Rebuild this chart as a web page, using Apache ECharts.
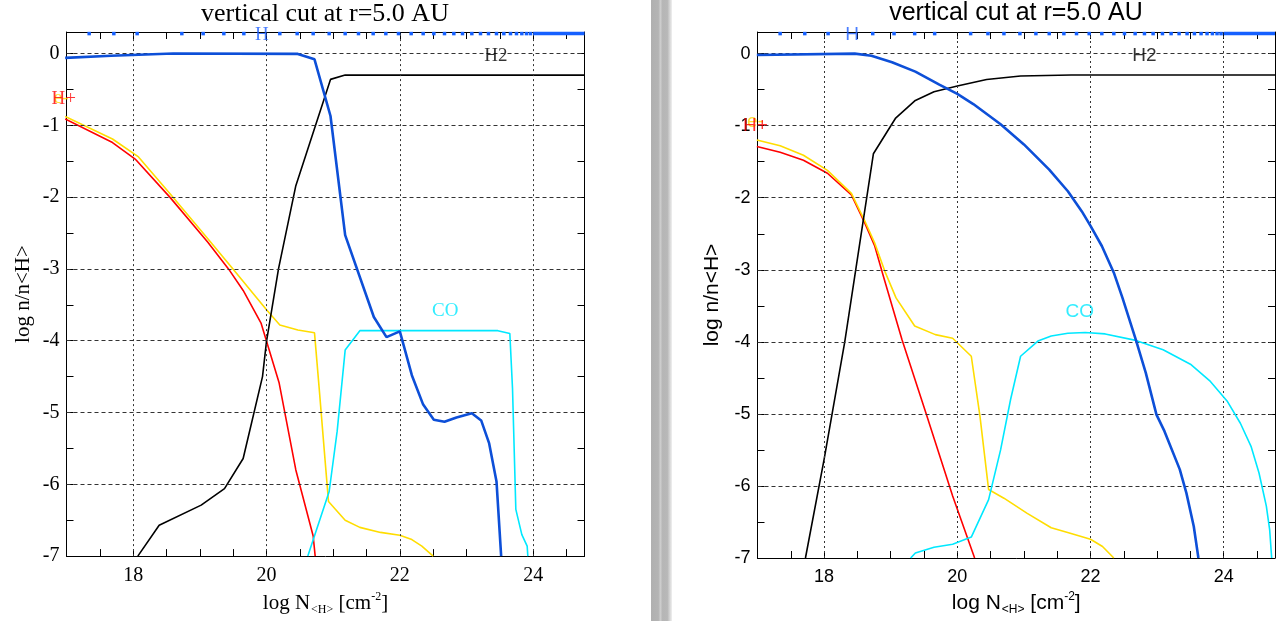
<!DOCTYPE html>
<html><head><meta charset="utf-8">
<script src="https://cdn.jsdelivr.net/npm/echarts@6/dist/echarts.min.js"></script>
<style>html,body{margin:0;padding:0;background:#fff}#c{width:1282px;height:621px}</style>
</head><body><div id="c"></div>
<script>
// ---- tick labels ----
const xLabelVals = [18, 20, 22, 24];
const yLabelVals = [0, -1, -2, -3, -4, -5, -6, -7];
// ---- model grid points shown along the top edge ----
const gridPts = [17.34, 17.71, 18.06, 18.73, 19.05, 19.36, 19.66, 20.20, 20.46, 20.70, 20.94, 21.18, 21.38,
  21.60, 21.79, 21.98, 22.17, 22.35, 22.51, 22.67, 22.81, 22.94, 23.08, 23.21, 23.33, 23.45, 23.56, 23.66,
  23.75, 23.83, 23.90, 23.96];
const gridPtsDense = [24.0, 24.77];
// ---- left panel (log n/n<H> vs log N<H>) ----
const leftH = [[16.98,-0.06],[17.67,-0.03],[18.6,0.0],[20.47,-0.005],[20.72,-0.08],[20.96,-0.87],[21.18,-2.53],
  [21.61,-3.67],[21.80,-3.95],[22.0,-3.87],[22.18,-4.48],[22.35,-4.89],[22.51,-5.10],[22.67,-5.13],[22.85,-5.07],
  [23.08,-5.01],[23.22,-5.11],[23.34,-5.43],[23.45,-5.96],[23.52,-7.0]];
const leftH2 = [[18.07,-7.0],[18.39,-6.57],[19.02,-6.29],[19.37,-6.06],[19.65,-5.64],[19.94,-4.5],[20.0,-4.01],
  [20.18,-3.0],[20.44,-1.84],[20.96,-0.36],[21.18,-0.30],[24.77,-0.30]];
const leftHp = [[16.98,-0.91],[17.69,-1.24],[18.03,-1.47],[18.55,-2.0],[19.12,-2.63],[19.43,-3.0],[19.65,-3.30],
  [19.92,-3.76],[20.19,-4.59],[20.44,-5.80],[20.70,-6.72],[20.73,-7.0]];
const leftE = [[16.98,-0.875],[17.69,-1.19],[18.08,-1.44],[18.55,-1.95],[19.12,-2.58],[19.46,-2.96],[20.0,-3.57],
  [20.2,-3.78],[20.47,-3.85],[20.72,-3.89],[20.79,-4.66],[20.88,-5.68],[20.93,-6.24],[21.18,-6.5],[21.40,-6.60],
  [21.71,-6.67],[22.0,-6.71],[22.18,-6.77],[22.33,-6.86],[22.50,-7.0]];
const leftCO = [[20.62,-7.0],[20.94,-6.10],[21.06,-5.26],[21.18,-4.13],[21.40,-3.86],[23.47,-3.86],[23.65,-3.90],
  [23.69,-4.66],[23.74,-6.35],[23.83,-6.70],[23.91,-6.86],[23.92,-7.0]];
// ---- right panel ----
const rightH = [[16.99,-0.02],[18.46,0.0],[18.71,-0.03],[19.02,-0.12],[19.37,-0.25],[19.73,-0.43],[20.0,-0.56],
  [20.24,-0.70],[20.65,-0.98],[21.0,-1.26],[21.38,-1.61],[21.66,-1.91],[21.87,-2.19],[22.0,-2.39],[22.17,-2.67],
  [22.35,-3.04],[22.48,-3.39],[22.68,-3.97],[22.83,-4.43],[22.99,-5.01],[23.11,-5.24],[23.34,-5.77],[23.44,-6.10],
  [23.55,-6.56],[23.62,-7.0]];
const rightH2 = [[17.72,-7.0],[18.0,-5.63],[18.31,-4.0],[18.74,-1.39],[19.07,-0.90],[19.37,-0.65],[19.65,-0.53],
  [20.0,-0.45],[20.44,-0.36],[20.95,-0.31],[21.71,-0.296],[24.77,-0.296]];
const rightHp = [[16.99,-1.29],[17.34,-1.37],[17.69,-1.48],[18.05,-1.66],[18.41,-1.96],[18.61,-2.35],[18.76,-2.67],
  [18.89,-3.09],[19.17,-3.97],[19.35,-4.48],[19.53,-4.99],[19.93,-6.14],[20.26,-7.0]];
const rightE = [[16.99,-1.20],[17.34,-1.28],[17.69,-1.41],[18.05,-1.62],[18.41,-1.94],[18.61,-2.32],[18.76,-2.63],
  [18.92,-3.04],[19.08,-3.39],[19.36,-3.78],[19.67,-3.90],[19.93,-3.95],[20.21,-4.20],[20.34,-5.03],[20.47,-6.05],
  [20.70,-6.17],[21.05,-6.38],[21.41,-6.58],[21.67,-6.65],[22.0,-6.74],[22.18,-6.84],[22.35,-7.0]];
const rightCO = [[19.30,-7.0],[19.37,-6.93],[19.65,-6.85],[19.93,-6.81],[20.21,-6.71],[20.47,-6.19],[20.65,-5.50],
  [20.80,-4.80],[20.95,-4.20],[21.21,-3.99],[21.41,-3.92],[21.66,-3.88],[21.92,-3.87],[22.22,-3.89],[22.68,-3.98],
  [23.09,-4.11],[23.50,-4.31],[23.80,-4.55],[24.05,-4.82],[24.25,-5.13],[24.41,-5.45],[24.53,-5.82],[24.64,-6.28],
  [24.69,-6.61],[24.72,-7.0]];
// ---- species labels [x, y, text, colour] ----
const leftLabels = [[19.93,0.26,'H','#1a5cff'],[23.44,-0.03,'H2','#000'],[16.92,-0.62,'e-','#ffd700'],[16.96,-0.64,'H+','#ff0000'],[22.68,-3.58,'CO','#00e8ff']];
const rightLabels = [[18.42,0.26,'H','#1a5cff'],[22.81,-0.03,'H2','#000'],[16.97,-0.94,'e-','#ffd700'],[16.97,-1.0,'H+','#ff0000'],[21.84,-3.58,'CO','#00e8ff']];

const title = 'vertical cut at r=5.0 AU';
const fonts = ['Liberation Serif', 'Liberation Sans'];
const tickSize = [20, 18];
const colors = {H:'#0d4fd8', H2:'#000000', Hp:'#ff0000', E:'#ffdd00', CO:'#00e8ff', dots:'#1560ff'};
const panels = [
  {H:leftH, H2:leftH2, Hp:leftHp, E:leftE, CO:leftCO, labels:leftLabels},
  {H:rightH, H2:rightH2, Hp:rightHp, E:rightE, CO:rightCO, labels:rightLabels}
];
const grids = [
  {left:66.5, right:1282-584.5, top:32, bottom:63},
  {left:757.5, right:7, top:32, bottom:63}
];
const X0 = 17, X1 = 24.77, Y0 = -7, Y1 = 0.3;

const chart = echarts.init(document.getElementById('c'), null, {renderer:'canvas'});
const xAxis = [], yAxis = [], series = [];
panels.forEach((p, i) => {
  const ff = fonts[i];
  const base = {
    gridIndex:i, type:'value', interval:0.5,
    axisLine:{show:true, onZero:false, lineStyle:{color:'#000', width:1}},
    axisTick:{show:true, inside:true, length:7, lineStyle:{color:'#000', width:1}},
    splitLine:{show:false}
  };
  xAxis.push(Object.assign({}, base, {
    min:X0, max:X1, position:'bottom',
    axisLabel:{show:true, margin:10, color:'#000', fontFamily:ff, fontSize:tickSize[i],
      formatter:v => xLabelVals.includes(v) ? String(v) : ''},
    name:'{a|log N}{b|<H>}{a| [cm}{c|-2}{a|]}', nameLocation:'middle', nameGap:29,
    nameTextStyle:{color:'#000', fontFamily:ff, fontSize:21,
      rich:{a:{fontFamily:ff, fontSize:21, color:'#000'},
            b:{fontFamily:ff, fontSize:12, color:'#000', padding:[13,0,0,1]},
            c:{fontFamily:ff, fontSize:12, color:'#000', padding:[0,0,13,0]}}}
  }));
  xAxis.push(Object.assign({}, base, {min:X0, max:X1, position:'top', axisLabel:{show:false}}));
  yAxis.push(Object.assign({}, base, {
    min:Y0, max:Y1, position:'left',
    axisLabel:{show:true, margin:7, color:'#000', fontFamily:ff, fontSize:tickSize[i],
      formatter:v => yLabelVals.includes(v) ? String(v) : ''},
    name:'log n/n<H>', nameLocation:'middle', nameGap: i === 0 ? 33 : 35,
    nameTextStyle:{color:'#000', fontFamily:ff, fontSize:21}
  }));
  yAxis.push(Object.assign({}, base, {min:Y0, max:Y1, position:'right', axisLabel:{show:false}}));

  const xi = i * 2, yi = i * 2;
  const vDash = {color:'#333', width:1, type:[2,3]};
  const hDash = {color:'#333', width:1, type:[4,3]};
  series.push({
    type:'line', xAxisIndex:xi, yAxisIndex:yi, data:[], z:1, silent:true,
    markLine:{silent:true, symbol:['none','none'], animation:false, label:{show:false},
      data: xLabelVals.map(v => ({xAxis:v, lineStyle:vDash}))
        .concat(yLabelVals.filter(v => v > Y0).map(v => ({yAxis:v, lineStyle:hDash})))}
  });
  const mk = (data, color, w, z) => ({type:'line', xAxisIndex:xi, yAxisIndex:yi, data, symbol:'none',
    showSymbol:false, z, lineStyle:{color, width:w}, animation:false, silent:true});
  series.push(mk(p.Hp, colors.Hp, 1.6, 2));
  series.push(mk(p.E, colors.E, 1.6, 3));
  series.push(mk(p.H2, colors.H2, 1.6, 4));
  series.push(mk(p.CO, colors.CO, 1.6, 5));
  series.push(mk(p.H, colors.H, 2.6, 6));
  // grid points along the top edge
  series.push({type:'scatter', xAxisIndex:xi, yAxisIndex:yi, data:gridPts.map(v => [v, Y1 - 0.022]),
    symbol:'rect', symbolSize:[3.5,3.5], itemStyle:{color:colors.dots, opacity:1}, z:7, animation:false, silent:true, clip:false});
  series.push({type:'line', xAxisIndex:xi, yAxisIndex:yi, data:gridPtsDense.map(v => [v, Y1 - 0.022]),
    symbol:'none', lineStyle:{color:colors.dots, width:3.5}, z:7, animation:false, silent:true, clip:false});
  // species labels
  series.push({type:'scatter', xAxisIndex:xi, yAxisIndex:yi, clip:false, z:8, animation:false, silent:true,
    symbol:'circle', symbolSize:1, itemStyle:{color:'rgba(0,0,0,0)'},
    data:p.labels.map(l => ({value:[l[0], l[1]], label:{show:true, position:'inside', formatter:l[2],
      color:l[3], fontFamily:ff, fontSize:19}}))});
});

chart.setOption({
  animation:false,
  backgroundColor:'#fff',
  title:[
    {text:title, left:325, top:1, textAlign:'center', padding:0,
     textStyle:{fontFamily:fonts[0], fontSize:26, fontWeight:'normal', color:'#000'}},
    {text:title, left:1016, top:1, textAlign:'center', padding:0,
     textStyle:{fontFamily:fonts[1], fontSize:25, fontWeight:'normal', color:'#000'}}
  ],
  grid: grids,
  xAxis, yAxis, series,
  graphic:[{type:'rect', left:651, top:0, shape:{width:21, height:621}, silent:true, z:-1,
    style:{fill:new echarts.graphic.LinearGradient(0,0,1,0,[
      {offset:0, color:'#b0b0b0'},{offset:0.35, color:'#b4b4b4'},{offset:0.45, color:'#cdcdcd'},
      {offset:0.55, color:'#b6b6b6'},{offset:0.78, color:'#b8b8b8'},{offset:1, color:'#f0f0f0'}])}}]
});
</script>
</body></html>
